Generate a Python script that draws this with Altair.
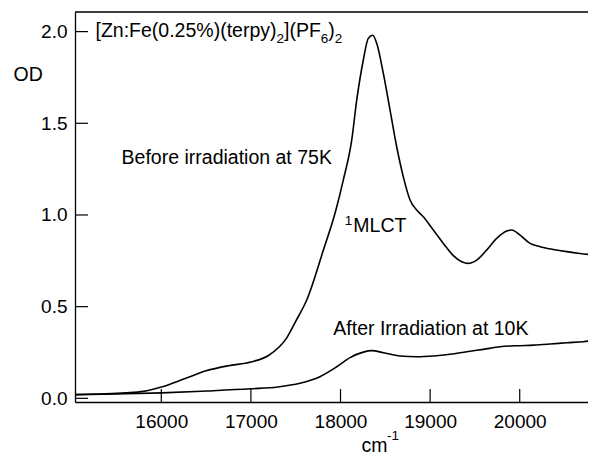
import altair as alt
import pandas as pd

# ---- data ----
wn_before = [15037, 15300, 15600, 15800, 16000, 16250, 16500, 16750, 17000, 17200,
             17400, 17500, 17623, 17808, 17945, 18031, 18125, 18181, 18254, 18310,
             18360, 18404, 18478, 18553, 18627, 18701, 18776, 18850, 18924, 19036,
             19148, 19259, 19353, 19426, 19520, 19632, 19743, 19855, 19911, 20004,
             20115, 20227, 20375, 20524, 20673, 20851]
od_before = [0.020, 0.024, 0.030, 0.038, 0.062, 0.105, 0.150, 0.178, 0.198, 0.235,
             0.330, 0.420, 0.536, 0.807, 1.020, 1.190, 1.408, 1.626, 1.844, 1.963,
             1.980, 1.936, 1.772, 1.572, 1.372, 1.208, 1.082, 1.027, 0.990, 0.918,
             0.845, 0.778, 0.745, 0.736, 0.754, 0.809, 0.872, 0.912, 0.918, 0.890,
             0.845, 0.827, 0.812, 0.800, 0.790, 0.781]

wn_after = [15037, 15500, 16000, 16500, 17000, 17300, 17547, 17770, 17958, 18106,
            18254, 18348, 18478, 18664, 18850, 19036, 19222, 19408, 19594, 19780,
            19966, 20152, 20338, 20524, 20710, 20851]
od_after = [0.020, 0.024, 0.030, 0.040, 0.052, 0.062, 0.082, 0.118, 0.172, 0.222,
            0.252, 0.260, 0.249, 0.231, 0.227, 0.231, 0.240, 0.254, 0.267, 0.281,
            0.287, 0.290, 0.296, 0.303, 0.309, 0.318]

x_ticks = [16000, 17000, 18000, 19000, 20000]
y_ticks = [0.0, 0.5, 1.0, 1.5, 2.0]
X_DOMAIN = [15037, 20762]
Y_DOMAIN = [-0.020, 2.107]

label_text = ["Before irradiation at 75K", "After Irradiation at 10K", "MLCT"]
label_x = [15557, 17920, 18143]
label_y = [1.278, 0.345, 0.905]

title_parts = ["[Zn:Fe(0.25%)(terpy)", "2", "](PF", "6", ")", "2"]
title_is_sub = [False, True, False, True, False, True]
title_x0 = 15266
title_y0 = 1.972

FONT = "Liberation Sans"
FS = 19.5
FS_SMALL = 13.5
W_PLOT, H_PLOT = 513, 390

# Arial/Liberation advance widths (em) used to chain subscript segments
ADV = {"[": .278, "]": .278, "Z": .611, "n": .556, ":": .278, "F": .611, "e": .556,
       "(": .333, ")": .333, "0": .556, ".": .278, "2": .556, "5": .556, "%": .889,
       "t": .278, "r": .333, "p": .556, "y": .5, "P": .667, "6": .556}
units_per_px = (X_DOMAIN[1] - X_DOMAIN[0]) / W_PLOT

seg_x, off = [], 0.0
for part, sub in zip(title_parts, title_is_sub):
    seg_x.append(title_x0 + off * units_per_px)
    off += sum(ADV[c] for c in part) * (FS_SMALL if sub else FS)

xs = alt.Scale(domain=X_DOMAIN, nice=False, zero=False)
ys = alt.Scale(domain=Y_DOMAIN, nice=False, zero=False)

df_b = pd.DataFrame({"wn": wn_before, "od": od_before})
df_a = pd.DataFrame({"wn": wn_after, "od": od_after})

x_axis = alt.Axis(values=x_ticks, format="d", tickSize=0, grid=False,
                  labelFont=FONT, labelFontSize=19, labelColor="black", labelPadding=10,
                  domainColor="black", domainWidth=1.3,
                  title="cm", titleFont=FONT, titleFontSize=FS, titleFontWeight="normal",
                  titleColor="black", titleAlign="left", titleAnchor="start",
                  titleX=286, titleY=49, titleBaseline="alphabetic")
y_axis = alt.Axis(values=y_ticks, format=".1f", tickSize=0, grid=False,
                  labelFont=FONT, labelFontSize=19, labelColor="black", labelPadding=8,
                  domainColor="black", domainWidth=1.3,
                  title="OD", titleFont=FONT, titleFontSize=FS, titleFontWeight="normal",
                  titleColor="black", titleAngle=0, titleAlign="left",
                  titleBaseline="middle", titleX=-62, titleY=62)

before = alt.Chart(df_b).mark_line(color="black", strokeWidth=1.6, interpolate="monotone",
                                   clip=True).encode(
    x=alt.X("wn:Q", scale=xs, axis=x_axis),
    y=alt.Y("od:Q", scale=ys, axis=y_axis),
)
after = alt.Chart(df_a).mark_line(color="black", strokeWidth=1.6, interpolate="monotone",
                                  clip=True).encode(
    x=alt.X("wn:Q", scale=xs),
    y=alt.Y("od:Q", scale=ys),
)

xt = alt.Chart(pd.DataFrame({"v": x_ticks})).mark_rule(color="black", strokeWidth=1.2).encode(
    x=alt.X("v:Q", scale=xs), y=alt.value(H_PLOT), y2=alt.value(H_PLOT - 13))
yt = alt.Chart(pd.DataFrame({"v": y_ticks})).mark_rule(color="black", strokeWidth=1.2).encode(
    y=alt.Y("v:Q", scale=ys), x=alt.value(0), x2=alt.value(13))
top = alt.Chart(pd.DataFrame({"v": [0]})).mark_rule(color="black", strokeWidth=1.3).encode(
    y=alt.value(0), x=alt.value(0), x2=alt.value(W_PLOT))

labels = alt.Chart(pd.DataFrame({"x": label_x, "y": label_y, "t": label_text})).mark_text(
    align="left", baseline="alphabetic", font=FONT, fontSize=FS, color="black").encode(
    x=alt.X("x:Q", scale=xs), y=alt.Y("y:Q", scale=ys), text="t:N")
sup1 = alt.Chart(pd.DataFrame({"x": [label_x[2]], "y": [label_y[2]], "t": ["1"]})).mark_text(
    align="right", baseline="alphabetic", font=FONT, fontSize=FS_SMALL, color="black",
    dx=-1, dy=-7).encode(x=alt.X("x:Q", scale=xs), y=alt.Y("y:Q", scale=ys), text="t:N")

df_title = pd.DataFrame({"x": seg_x, "t": title_parts, "sub": title_is_sub, "y": title_y0})
t_main = alt.Chart(df_title[~df_title["sub"]]).mark_text(
    align="left", baseline="alphabetic", font=FONT, fontSize=FS, color="black").encode(
    x=alt.X("x:Q", scale=xs), y=alt.Y("y:Q", scale=ys), text="t:N")
t_sub = alt.Chart(df_title[df_title["sub"]]).mark_text(
    align="left", baseline="alphabetic", font=FONT, fontSize=FS_SMALL, color="black",
    dy=6.6).encode(x=alt.X("x:Q", scale=xs), y=alt.Y("y:Q", scale=ys), text="t:N")

cm_sup = alt.Chart(pd.DataFrame({"x": [18519], "y": [-0.227], "t": ["-1"]})).mark_text(
    align="left", baseline="alphabetic", font=FONT, fontSize=FS_SMALL, color="black").encode(
    x=alt.X("x:Q", scale=xs), y=alt.Y("y:Q", scale=ys), text="t:N")

chart = alt.layer(before, after, xt, yt, top, labels, sup1, t_main, t_sub, cm_sup).properties(
    width=W_PLOT, height=H_PLOT,
    autosize=alt.AutoSizeParams(type="none"),
    padding={"left": 67, "top": 4, "right": 0, "bottom": 54},
).configure_view(stroke=None).configure(background="white")

chart.save("out.html", embed_options={"renderer": "svg", "actions": False})
